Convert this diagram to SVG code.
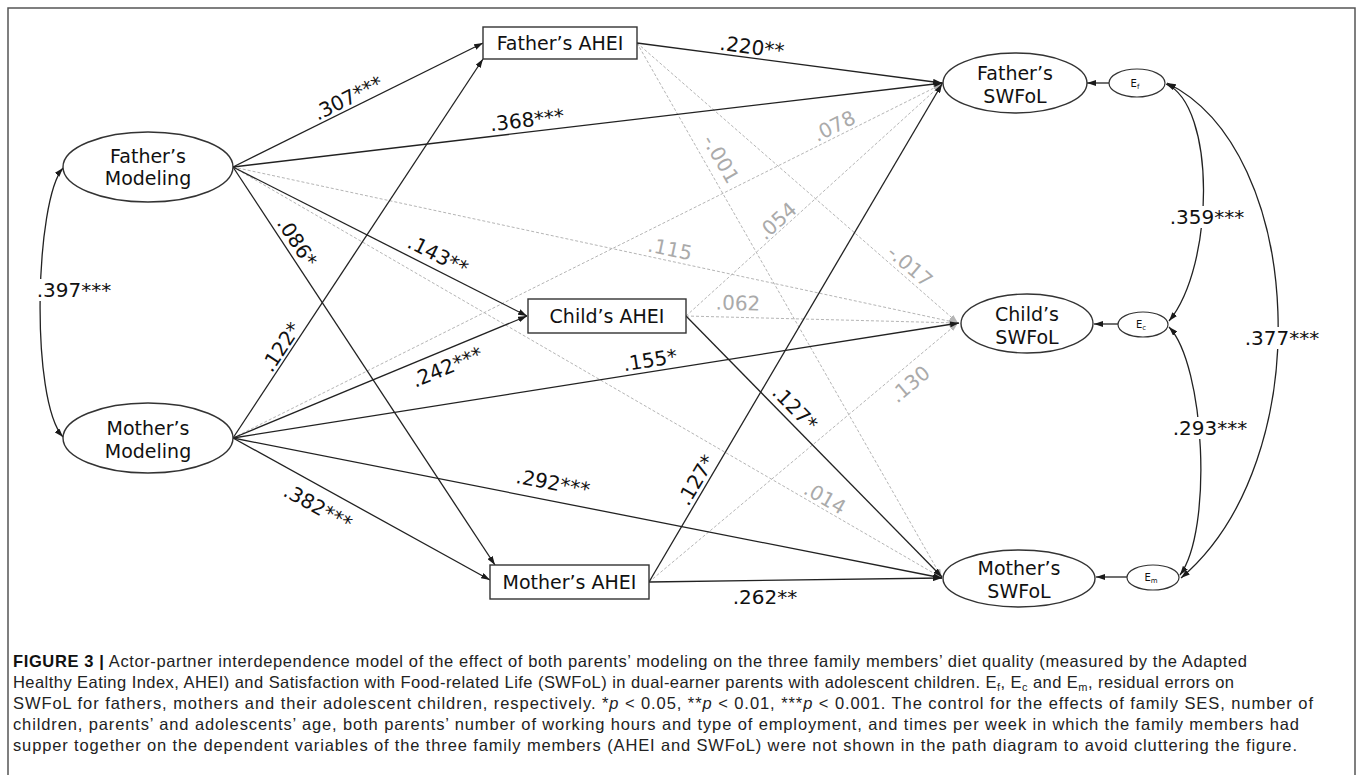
<svg xmlns="http://www.w3.org/2000/svg" width="1358" height="775" viewBox="0 0 1358 775">
<defs>
<marker id="ah" viewBox="0 0 9 6" refX="9" refY="3" markerWidth="9" markerHeight="6" markerUnits="userSpaceOnUse" orient="auto-start-reverse"><path d="M0,0 L9,3 L0,6 z" fill="#1a1a1a"/></marker>
<marker id="ahg" viewBox="0 0 9 6" refX="9" refY="3" markerWidth="9" markerHeight="6" markerUnits="userSpaceOnUse" orient="auto-start-reverse"><path d="M0,0 L9,3 L0,6 z" fill="#b5b5b5"/></marker>
</defs>
<style>
.node{fill:#fff;stroke:#333;stroke-width:1.4}
.enode{fill:#fff;stroke:#333;stroke-width:1.2}
.nt{font-family:"DejaVu Sans",Verdana,sans-serif;font-size:19px;fill:#111;text-anchor:middle}
.et{font-family:"DejaVu Sans",Verdana,sans-serif;font-size:10px;fill:#111;text-anchor:middle}
.sol{fill:none;stroke:#222;stroke-width:1.3;marker-end:url(#ah)}
.dash{fill:none;stroke:#b5b5b5;stroke-width:1;stroke-dasharray:3 2;marker-end:url(#ahg)}
.cov{fill:none;stroke:#222;stroke-width:1.3;marker-start:url(#ah);marker-end:url(#ah)}
.lb{font-family:"DejaVu Sans",Verdana,sans-serif;font-size:20px;fill:#111;text-anchor:middle;dominant-baseline:central}
.lg{font-family:"DejaVu Sans",Verdana,sans-serif;font-size:20px;fill:#aaa;text-anchor:middle;dominant-baseline:central}
.cap{font-family:"Liberation Sans",Arial,sans-serif;font-size:16.5px;fill:#222}
</style>
<rect x="0" y="0" width="1358" height="775" fill="#fff"/>
<rect x="8" y="8" width="1347" height="800" fill="none" stroke="#555" stroke-width="1.5"/>

<g id="connectors">
  <path class="dash" d="M233,167 L958,323"/>
  <path class="dash" d="M233,167 L942,578"/>
  <path class="dash" d="M233,438 L942,84"/>
  <path class="dash" d="M637,43 L958,323"/>
  <path class="dash" d="M637,43 L942,578"/>
  <path class="dash" d="M686,316 L942,84"/>
  <path class="dash" d="M686,316 L958,323"/>
  <path class="dash" d="M649,582 L958,323"/>

  <path class="sol" d="M233,167 L483,43"/>
  <path class="sol" d="M233,167 L943,83"/>
  <path class="sol" d="M233,167 L527,316"/>
  <path class="sol" d="M233,167 L495,565"/>
  <path class="sol" d="M233,438 L483,59"/>
  <path class="sol" d="M233,438 L527,316"/>
  <path class="sol" d="M233,438 L959,323"/>
  <path class="sol" d="M233,438 L942,578"/>
  <path class="sol" d="M233,438 L490,580"/>
  <path class="sol" d="M637,43 L942,83"/>
  <path class="sol" d="M686,316 L942,577"/>
  <path class="sol" d="M649,582 L942,84"/>
  <path class="sol" d="M649,582 L942,578"/>

  <path class="sol" d="M1109,83 L1087,83"/>
  <path class="sol" d="M1118,324 L1094,324"/>
  <path class="sol" d="M1127,577 L1096,577"/>

  <path class="cov" d="M63,168 C35,200 30,400 63,437"/>
  <path class="cov" d="M1166,84 C1216,105 1215,265 1169,321"/>
  <path class="cov" d="M1169,327 C1205,365 1213,530 1180,575"/>
  <path class="cov" d="M1167,83 C1305,150 1320,460 1181,578"/>

  <rect x="34" y="279" width="80" height="22" fill="#fff"/>
  <rect x="1167" y="206" width="80" height="22" fill="#fff"/>
  <rect x="1170" y="417" width="80" height="22" fill="#fff"/>
  <rect x="1242" y="327" width="80" height="22" fill="#fff"/>

  <text class="lb" transform="translate(74,290)">.397***</text>
  <text class="lb" transform="translate(1207,217)">.359***</text>
  <text class="lb" transform="translate(1210,428)">.293***</text>
  <text class="lb" transform="translate(1282,338)">.377***</text>

  <text class="lb" transform="translate(348,98) rotate(-26.4)">.307***</text>
  <text class="lb" transform="translate(527,120) rotate(-6.7)">.368***</text>
  <text class="lb" transform="translate(752,47) rotate(7.4)">.220**</text>
  <text class="lb" transform="translate(438,255) rotate(26.8)">.143**</text>
  <text class="lb" transform="translate(297,242) rotate(56.6)">.086*</text>
  <text class="lb" transform="translate(281,347) rotate(-56.5)">.122*</text>
  <text class="lb" transform="translate(447,367) rotate(-22.4)">.242***</text>
  <text class="lb" transform="translate(650,360) rotate(-9)">.155*</text>
  <text class="lb" transform="translate(553,483) rotate(11.1)">.292***</text>
  <text class="lb" transform="translate(318,507) rotate(28.8)">.382***</text>
  <text class="lb" transform="translate(795,408) rotate(45.5)">.127*</text>
  <text class="lb" transform="translate(696,480) rotate(-59.5)">.127*</text>
  <text class="lb" transform="translate(765,597)">.262**</text>

  <text class="lg" transform="translate(834,126) rotate(-26.5)">.078</text>
  <text class="lg" transform="translate(721,159) rotate(60)">-.001</text>
  <text class="lg" transform="translate(670,249) rotate(12)">.115</text>
  <text class="lg" transform="translate(777,221) rotate(-42)">.054</text>
  <text class="lg" transform="translate(910,266) rotate(40.8)">-.017</text>
  <text class="lg" transform="translate(738,303) rotate(1.5)">.062</text>
  <text class="lg" transform="translate(910,384) rotate(-39.8)">.130</text>
  <text class="lg" transform="translate(825,498) rotate(30)">.014</text>
</g>

<g id="father-modeling">
  <ellipse class="node" cx="148" cy="167" rx="85" ry="35"/>
  <text class="nt" x="148" y="163">Father’s</text>
  <text class="nt" x="148" y="185">Modeling</text>
</g>
<g id="mother-modeling">
  <ellipse class="node" cx="148" cy="438" rx="85" ry="35"/>
  <text class="nt" x="148" y="435">Mother’s</text>
  <text class="nt" x="148" y="458">Modeling</text>
</g>
<g id="father-ahei">
  <rect class="node" x="483" y="27" width="154" height="32"/>
  <text class="nt" x="560" y="50">Father’s AHEI</text>
</g>
<g id="child-ahei">
  <rect class="node" x="528" y="299" width="158" height="34"/>
  <text class="nt" x="607" y="323">Child’s AHEI</text>
</g>
<g id="mother-ahei">
  <rect class="node" x="490" y="565" width="159" height="34"/>
  <text class="nt" x="569.5" y="589">Mother’s AHEI</text>
</g>
<g id="father-swfol">
  <ellipse class="node" cx="1015" cy="83" rx="72" ry="30"/>
  <text class="nt" x="1015" y="80">Father’s</text>
  <text class="nt" x="1015" y="103">SWFoL</text>
</g>
<g id="child-swfol">
  <ellipse class="node" cx="1027" cy="323.5" rx="66" ry="29.5"/>
  <text class="nt" x="1027" y="321">Child’s</text>
  <text class="nt" x="1027" y="344">SWFoL</text>
</g>
<g id="mother-swfol">
  <ellipse class="node" cx="1019" cy="578.5" rx="76" ry="28.5"/>
  <text class="nt" x="1019" y="575">Mother’s</text>
  <text class="nt" x="1019" y="598">SWFoL</text>
</g>
<g id="e-f">
  <ellipse class="enode" cx="1137" cy="83" rx="28" ry="14"/>
  <text class="et" x="1135" y="87">E<tspan font-size="7" dy="2">f</tspan></text>
</g>
<g id="e-c">
  <ellipse class="enode" cx="1143" cy="324.5" rx="25" ry="12.5"/>
  <text class="et" x="1141" y="328">E<tspan font-size="7" dy="2">c</tspan></text>
</g>
<g id="e-m">
  <ellipse class="enode" cx="1153" cy="577.5" rx="26" ry="12.5"/>
  <text class="et" x="1151" y="581">E<tspan font-size="7" dy="2">m</tspan></text>
</g>

<g id="caption">
  <text class="cap" x="13" y="667" textLength="1234" lengthAdjust="spacing"><tspan font-weight="bold" fill="#111">FIGURE 3 |</tspan> Actor-partner interdependence model of the effect of both parents’ modeling on the three family members’ diet quality (measured by the Adapted</text>
  <text class="cap" x="13" y="688" textLength="1221" lengthAdjust="spacing">Healthy Eating Index, AHEI) and Satisfaction with Food-related Life (SWFoL) in dual-earner parents with adolescent children. E<tspan font-size="11" dy="3">f</tspan><tspan dy="-3">, E</tspan><tspan font-size="11" dy="3">c</tspan><tspan dy="-3"> and E</tspan><tspan font-size="11" dy="3">m</tspan><tspan dy="-3">, residual errors on</tspan></text>
  <text class="cap" x="13" y="709" textLength="1300" lengthAdjust="spacing">SWFoL for fathers, mothers and their adolescent children, respectively. *<tspan font-style="italic">p</tspan> &lt; 0.05, **<tspan font-style="italic">p</tspan> &lt; 0.01, ***<tspan font-style="italic">p</tspan> &lt; 0.001. The control for the effects of family SES, number of</text>
  <text class="cap" x="13" y="730" textLength="1286" lengthAdjust="spacing">children, parents’ and adolescents’ age, both parents’ number of working hours and type of employment, and times per week in which the family members had</text>
  <text class="cap" x="13" y="751" textLength="1284" lengthAdjust="spacing">supper together on the dependent variables of the three family members (AHEI and SWFoL) were not shown in the path diagram to avoid cluttering the figure.</text>
</g>
</svg>
